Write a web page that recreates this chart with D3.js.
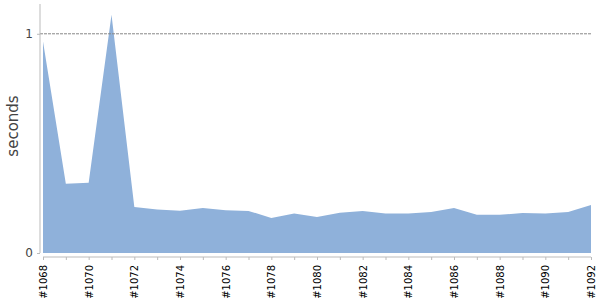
<!DOCTYPE html>
<html>
<head>
<meta charset="utf-8">
<script src="https://cdn.jsdelivr.net/npm/d3@7"></script>
<style>
	body { margin: 0; background: #fff; }
	text { font-family: "DejaVu Sans", sans-serif; }
</style>
</head>
<body>
<div id="chart"></div>
<script>
// build numbers and their times (seconds)
var builds = [1068, 1069, 1070, 1071, 1072, 1073, 1074, 1075, 1076, 1077, 1078, 1079, 1080,
	1081, 1082, 1083, 1084, 1085, 1086, 1087, 1088, 1089, 1090, 1091, 1092];
var seconds = [0.965, 0.316, 0.32, 1.087, 0.21, 0.198, 0.193, 0.205, 0.195, 0.192, 0.16, 0.18, 0.164,
	0.184, 0.192, 0.18, 0.18, 0.187, 0.205, 0.174, 0.174, 0.183, 0.18, 0.187, 0.219];
var yTicks = [0, 1];

var svgWidth = 600;
var svgHeight = 300;
var margins = { top: 4, right: 9, left: 43, bottom: 47 };
var width = svgWidth - margins.left - margins.right;
var height = svgHeight - margins.top - margins.bottom;

var svg = d3.select('#chart').append('svg').attr('width', svgWidth).attr('height', svgHeight);
var chart = svg.append('g').attr('transform', `translate(${margins.left}, ${margins.top})`);

var data = builds.map((b, i) => ({ build: b, value: seconds[i] }));

var xaxis = d3.scaleLinear()
	.domain([d3.min(builds), d3.max(builds)])
	.range([0, width]);
var yaxis = d3.scaleLinear()
	.domain([0, d3.max(seconds) * 1.045])
	.range([height, 0]);

// area
var area = d3.area()
	.x(d => xaxis(d.build))
	.y0(yaxis(0))
	.y1(d => yaxis(d.value));

chart.append('path')
	.datum(data)
	.attr('d', area)
	.attr('fill', '#8fb1da');

// dashed line at 1 second
chart.append('line')
	.attr('x1', -3).attr('x2', width)
	.attr('y1', yaxis(1)).attr('y2', yaxis(1))
	.attr('stroke', '#888')
	.attr('stroke-width', 1)
	.attr('stroke-dasharray', '3,1');

// y axis
var yg = chart.append('g').attr('transform', 'translate(-3, 0)')
	.call(d3.axisLeft(yaxis).tickValues(yTicks).tickFormat(d3.format('d')).tickSize(3).tickPadding(4));
yg.select('.domain').attr('stroke', '#bbb').attr('d', `M0,0V${height}`);
yg.selectAll('.tick line').attr('stroke', '#bbb');
yg.selectAll('.tick text').attr('font-size', 12).attr('fill', '#444')
	.attr('font-family', '"DejaVu Sans", sans-serif');

// x axis
var xg = chart.append('g').attr('transform', `translate(0, ${height + 4})`)
	.call(d3.axisBottom(xaxis).tickValues(builds).tickSize(3)
		.tickFormat(d => (d % 2 === 0 ? '#' + d : '')));
xg.select('.domain').attr('stroke', '#bbb').attr('d', `M0,0H${width}`);
xg.selectAll('.tick line').attr('stroke', '#bbb');
xg.selectAll('.tick text')
	.attr('font-size', 10)
	.attr('fill', '#000')
	.attr('font-family', '"DejaVu Sans", sans-serif')
	.attr('transform', 'rotate(-90)')
	.attr('text-anchor', 'end')
	.attr('x', -8)
	.attr('y', 0)
	.attr('dy', '0.35em');

// axis label
svg.append('text')
	.attr('transform', `translate(18, ${margins.top + 122}) rotate(-90)`)
	.attr('text-anchor', 'middle')
	.attr('font-size', 15)
	.attr('fill', '#444')
	.text('seconds');
</script>
</body>
</html>
